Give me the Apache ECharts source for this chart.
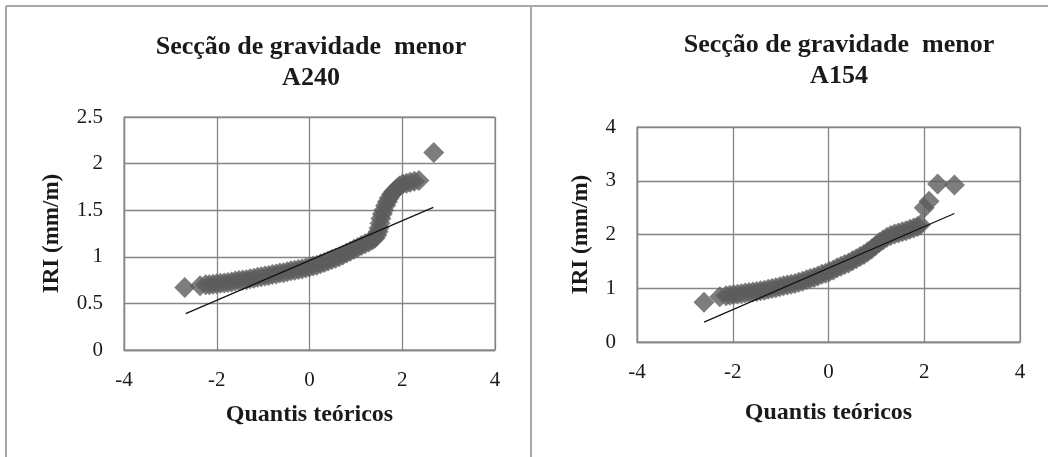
<!DOCTYPE html>
<html>
<head>
<meta charset="utf-8">
<script src="https://cdn.jsdelivr.net/npm/echarts@6/dist/echarts.min.js"></script>
<style>
  html, body { margin: 0; padding: 0; background: #ffffff; }
  #chart { width: 1048px; height: 457px; }
</style>
</head>
<body>
<div id="chart"></div>
<script>
// Secção A240: theoretical quantiles and observed IRI (mm/m)
const a240Quantis = [-2.69, -2.36, -2.24, -2.16, -2.08, -2.00, -1.92, -1.84, -1.76, -1.68, -1.60, -1.52, -1.44, -1.36, -1.28, -1.20, -1.12, -1.04, -0.96, -0.88, -0.80, -0.72, -0.64, -0.56, -0.48, -0.40, -0.32, -0.24, -0.16, -0.08, 0.00, 0.08, 0.16, 0.24, 0.32, 0.40, 0.48, 0.56, 0.64, 0.72, 0.80, 0.88, 0.96, 1.04, 1.12, 1.20, 1.28, 1.35, 1.41, 1.45, 1.48, 1.50, 1.52, 1.54, 1.57, 1.60, 1.64, 1.68, 1.72, 1.77, 1.82, 1.88, 1.94, 2.01, 2.09, 2.17, 2.26, 2.36, 2.68];
const a240IRI = [0.67, 0.69, 0.70, 0.70, 0.705, 0.71, 0.715, 0.72, 0.725, 0.73, 0.74, 0.745, 0.75, 0.755, 0.765, 0.77, 0.78, 0.785, 0.795, 0.80, 0.81, 0.815, 0.825, 0.83, 0.84, 0.85, 0.855, 0.865, 0.87, 0.88, 0.89, 0.90, 0.91, 0.925, 0.94, 0.955, 0.97, 0.985, 1.00, 1.02, 1.04, 1.06, 1.08, 1.10, 1.12, 1.14, 1.16, 1.18, 1.20, 1.23, 1.27, 1.31, 1.36, 1.41, 1.46, 1.50, 1.55, 1.59, 1.63, 1.67, 1.70, 1.73, 1.76, 1.78, 1.79, 1.80, 1.81, 1.82, 2.12];
// reference line end points
const a240LineQ = [-2.67, 2.67];
const a240LineIRI = [0.39, 1.53];

// Secção A154
const a154Quantis = [-2.60, -2.27, -2.14, -2.06, -1.98, -1.90, -1.82, -1.74, -1.66, -1.58, -1.50, -1.42, -1.34, -1.26, -1.18, -1.10, -1.02, -0.94, -0.86, -0.78, -0.70, -0.62, -0.54, -0.46, -0.38, -0.30, -0.22, -0.14, -0.06, 0.02, 0.10, 0.18, 0.26, 0.34, 0.42, 0.50, 0.58, 0.66, 0.74, 0.82, 0.90, 0.98, 1.06, 1.14, 1.22, 1.30, 1.38, 1.46, 1.54, 1.62, 1.70, 1.78, 1.86, 1.92, 2.00, 2.10, 2.28, 2.63];
const a154IRI = [0.74, 0.84, 0.86, 0.87, 0.88, 0.89, 0.90, 0.91, 0.92, 0.93, 0.94, 0.955, 0.965, 0.98, 0.995, 1.01, 1.03, 1.045, 1.06, 1.075, 1.09, 1.11, 1.13, 1.16, 1.18, 1.20, 1.23, 1.26, 1.28, 1.31, 1.34, 1.38, 1.41, 1.44, 1.47, 1.51, 1.55, 1.59, 1.63, 1.68, 1.73, 1.79, 1.85, 1.90, 1.95, 1.98, 2.01, 2.03, 2.05, 2.07, 2.10, 2.12, 2.15, 2.18, 2.50, 2.62, 2.94, 2.92];
const a154LineQ = [-2.60, 2.63];
const a154LineIRI = [0.37, 2.39];

// axis ticks
const xTicks = { min: -4, max: 4, interval: 2 };
const a240YTicks = { min: 0, max: 2.5, interval: 0.5 };
const a154YTicks = { min: 0, max: 4, interval: 1 };

const titleLine1 = 'Secção de gravidade  menor';
const panelNames = ['A240', 'A154'];
const xName = 'Quantis teóricos';
const yName = 'IRI (mm/m)';

const SERIF = '"Liberation Serif", "Times New Roman", serif';
const TEXT = '#1a1a1a';
const GRIDC = '#858585';
const MARK = '#5c5c5c';

function pairs(xs, ys) { return xs.map((x, i) => [x, ys[i]]); }

function xAxisFor(gi, nameGap) {
  return {
    gridIndex: gi, type: 'value',
    min: xTicks.min, max: xTicks.max, interval: xTicks.interval,
    axisLine: { show: true, onZero: false, lineStyle: { color: GRIDC, width: 1.3 } },
    axisTick: { show: false },
    splitLine: { show: true, lineStyle: { color: GRIDC, width: 1.3 } },
    axisLabel: { fontFamily: SERIF, fontSize: 21, color: TEXT, margin: 20 },
    name: xName, nameLocation: 'middle', nameGap: nameGap,
    nameTextStyle: { fontFamily: SERIF, fontSize: 24, fontWeight: 'bold', color: TEXT }
  };
}
function yAxisFor(gi, t, nameGap) {
  return {
    gridIndex: gi, type: 'value',
    min: t.min, max: t.max, interval: t.interval,
    axisLine: { show: true, onZero: false, lineStyle: { color: GRIDC, width: 1.3 } },
    axisTick: { show: false },
    splitLine: { show: true, lineStyle: { color: GRIDC, width: 1.3 } },
    axisLabel: { fontFamily: SERIF, fontSize: 21, color: TEXT, margin: 21 },
    name: yName, nameLocation: 'middle', nameGap: nameGap, nameRotate: 90,
    nameTextStyle: { fontFamily: SERIF, fontSize: 23, fontWeight: 'bold', color: TEXT }
  };
}

const chart = echarts.init(document.getElementById('chart'), null, { renderer: 'canvas' });

const borderStyle = { stroke: '#a8a8a8', lineWidth: 2 };

chart.setOption({
  backgroundColor: '#ffffff',
  animation: false,
  grid: [
    { left: 124, right: 553, top: 117, bottom: 107, show: true, borderColor: GRIDC, borderWidth: 1 },
    { left: 637, right: 28, top: 127, bottom: 115, show: true, borderColor: GRIDC, borderWidth: 1 }
  ],
  xAxis: [xAxisFor(0, 53), xAxisFor(1, 59)],
  yAxis: [yAxisFor(0, a240YTicks, 60), yAxisFor(1, a154YTicks, 44)],
  series: [
    {
      type: 'scatter', xAxisIndex: 0, yAxisIndex: 0,
      symbol: 'diamond', symbolSize: 21,
      itemStyle: { color: MARK },
      data: pairs(a240Quantis, a240IRI), z: 2
    },
    {
      type: 'line', xAxisIndex: 0, yAxisIndex: 0,
      showSymbol: false, symbol: 'none',
      lineStyle: { color: '#111111', width: 1.2 },
      data: pairs(a240LineQ, a240LineIRI), z: 3
    },
    {
      type: 'scatter', xAxisIndex: 1, yAxisIndex: 1,
      symbol: 'diamond', symbolSize: 21,
      itemStyle: { color: MARK },
      data: pairs(a154Quantis, a154IRI), z: 2
    },
    {
      type: 'line', xAxisIndex: 1, yAxisIndex: 1,
      showSymbol: false, symbol: 'none',
      lineStyle: { color: '#111111', width: 1.2 },
      data: pairs(a154LineQ, a154LineIRI), z: 3
    }
  ],
  graphic: [
    // panel frames
    { type: 'line', shape: { x1: 6, y1: 6, x2: 1048, y2: 6 }, style: borderStyle },
    { type: 'line', shape: { x1: 6, y1: 6, x2: 6, y2: 457 }, style: borderStyle },
    { type: 'line', shape: { x1: 531, y1: 6, x2: 531, y2: 457 }, style: borderStyle },
    // panel titles
    {
      type: 'text', x: 311, y: 32,
      style: {
        text: titleLine1 + '\n' + panelNames[0], align: 'center', verticalAlign: 'top',
        font: 'bold 26px ' + SERIF, lineHeight: 31, fill: TEXT
      }
    },
    {
      type: 'text', x: 839, y: 30,
      style: {
        text: titleLine1 + '\n' + panelNames[1], align: 'center', verticalAlign: 'top',
        font: 'bold 26px ' + SERIF, lineHeight: 31, fill: TEXT
      }
    }
  ]
});
</script>
</body>
</html>
